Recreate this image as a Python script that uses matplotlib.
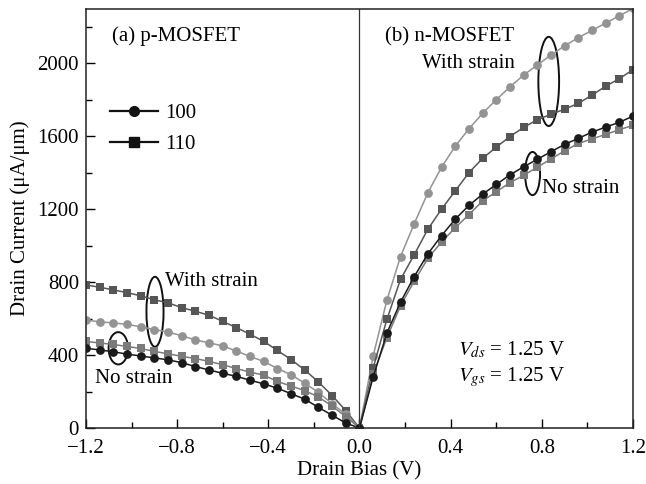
import matplotlib
matplotlib.use('Agg')
import matplotlib.pyplot as plt
from matplotlib.patches import Ellipse
from matplotlib.lines import Line2D
from matplotlib.ticker import MultipleLocator

plt.rcParams['font.family'] = ['Liberation Serif', 'DejaVu Serif']
plt.rcParams['mathtext.fontset'] = 'stix'
plt.rcParams['font.size'] = 15

# drain bias sweeps (V)
bias_p = [-1.2, -1.14, -1.08, -1.02, -0.96, -0.9, -0.84, -0.78, -0.72, -0.66, -0.6,
          -0.54, -0.48, -0.42, -0.36, -0.3, -0.24, -0.18, -0.12, -0.06, 0.0]
bias_n = [0.0, 0.06, 0.12, 0.18, 0.24, 0.3, 0.36, 0.42, 0.48, 0.54, 0.6,
          0.66, 0.72, 0.78, 0.84, 0.9, 0.96, 1.02, 1.08, 1.14, 1.2]

# p-MOSFET drain current (uA/um)
p_100_nostrain = [437, 428, 418, 405, 395, 384, 374, 358, 337, 318, 300,
                  283, 262, 242, 218, 188, 158, 113, 70, 27, 0]
p_110_nostrain = [475, 466, 458, 447, 436, 420, 407, 393, 381, 365, 347,
                  326, 306, 290, 255, 230, 205, 170, 120, 62, 0]
p_100_strain = [592, 582, 576, 568, 555, 540, 526, 506, 483, 467, 450,
                422, 392, 365, 326, 292, 245, 195, 133, 75, 0]
p_110_strain = [784, 772, 757, 742, 725, 703, 686, 660, 640, 618, 585,
                550, 514, 475, 425, 375, 318, 252, 178, 95, 0]

# n-MOSFET drain current (uA/um)
n_100_nostrain = [0, 280, 520, 690, 830, 955, 1055, 1145, 1220, 1282, 1335,
                  1388, 1432, 1473, 1515, 1555, 1588, 1622, 1650, 1676, 1710]
n_110_nostrain = [0, 295, 495, 670, 805, 930, 1020, 1098, 1170, 1245, 1295,
                  1345, 1385, 1430, 1475, 1520, 1560, 1585, 1610, 1635, 1660]
n_100_strain = [0, 395, 700, 940, 1120, 1290, 1430, 1545, 1640, 1725, 1800,
                1870, 1935, 1990, 2045, 2095, 2140, 2180, 2220, 2260, 2300]
n_110_strain = [0, 330, 595, 815, 950, 1090, 1200, 1300, 1400, 1478, 1540,
                1598, 1648, 1690, 1720, 1748, 1780, 1825, 1874, 1915, 1965]

x_ticks = [-1.2, -0.8, -0.4, 0.0, 0.4, 0.8, 1.2]
x_tick_labels = ['\u22121.2', '\u22120.8', '\u22120.4', '0.0', '0.4', '0.8', '1.2']
y_ticks = [0, 400, 800, 1200, 1600, 2000]
y_tick_labels = ['0', '400', '800', '1200', '1600', '2000']

c_black = '#1a1a1a'
c_mid = '#7a7a7a'
c_light = '#939393'
c_dark = '#565656'

fig = plt.figure(figsize=(6.46, 4.84), dpi=100)
ax = fig.add_axes([0.133, 0.1157, 0.847, 0.8653])

series = [
    (p_110_strain, bias_p, c_dark, 's'),
    (p_100_strain, bias_p, c_light, 'o'),
    (p_110_nostrain, bias_p, c_mid, 's'),
    (p_100_nostrain, bias_p, c_black, 'o'),
    (n_100_strain, bias_n, c_light, 'o'),
    (n_110_strain, bias_n, c_dark, 's'),
    (n_110_nostrain, bias_n, c_mid, 's'),
    (n_100_nostrain, bias_n, c_black, 'o'),
]
for ys, xs, col, mk in series:
    ax.plot(xs, ys, color=col, marker=mk, markersize=6.3, markeredgewidth=0,
            linewidth=1.1)

ax.axvline(0, color='#333333', linewidth=0.9)

ax.set_xlim(-1.2, 1.2)
ax.set_ylim(0, 2296)
ax.set_xticks(x_ticks)
ax.set_xticklabels(x_tick_labels)
ax.set_yticks(y_ticks)
ax.set_yticklabels(y_tick_labels)
ax.xaxis.set_minor_locator(MultipleLocator(0.2))
ax.yaxis.set_minor_locator(MultipleLocator(200))
ax.tick_params(which='both', direction='in', top=False, right=False, width=1.0)
ax.tick_params(which='major', length=6.5, pad=5)
ax.tick_params(axis='x', which='major', pad=8)
ax.tick_params(which='minor', length=4)
for sp in ax.spines.values():
    sp.set_linewidth(1.1)
    sp.set_color('#222222')

ax.set_xlabel('Drain Bias (V)')
ax.set_ylabel('Drain Current (\u03bcA/\u03bcm)')
ax.xaxis.set_label_coords(0.5, -0.08)
ax.yaxis.set_label_coords(-0.103, 0.5)

# annotations
ax.text(-1.085, 2148, '(a) p-MOSFET', ha='left', va='center')
ax.text(0.112, 2142, '(b) n-MOSFET', ha='left', va='center')
ax.text(0.68, 2000, 'With strain', ha='right', va='center')
ax.text(0.80, 1315, 'No strain', ha='left', va='center')
ax.text(-0.853, 805, 'With strain', ha='left', va='center')
ax.text(-1.16, 274, 'No strain', ha='left', va='center')
ax.text(0.432, 427, '$V_{ds}$ = 1.25 V', ha='left', va='center')
ax.text(0.432, 279, '$V_{gs}$ = 1.25 V', ha='left', va='center')

for cx, cy, w, h in [(-0.897, 637, 0.075, 384), (-1.058, 437, 0.085, 177),
                     (0.83, 1900, 0.091, 489), (0.759, 1395, 0.066, 237)]:
    ax.add_patch(Ellipse((cx, cy), w, h, fill=False, edgecolor='#111111', linewidth=1.4))

handles = [Line2D([], [], color='#111111', marker='o', markersize=7, linewidth=1.6),
           Line2D([], [], color='#111111', marker='s', markersize=7, linewidth=1.6)]
ax.legend(handles, ['100', '110'], loc='upper left', bbox_to_anchor=(0.018, 0.81),
          frameon=False, handlelength=2.3, handletextpad=0.35, labelspacing=0.55,
          borderpad=0.2)

fig.savefig('out.png', dpi=100)
